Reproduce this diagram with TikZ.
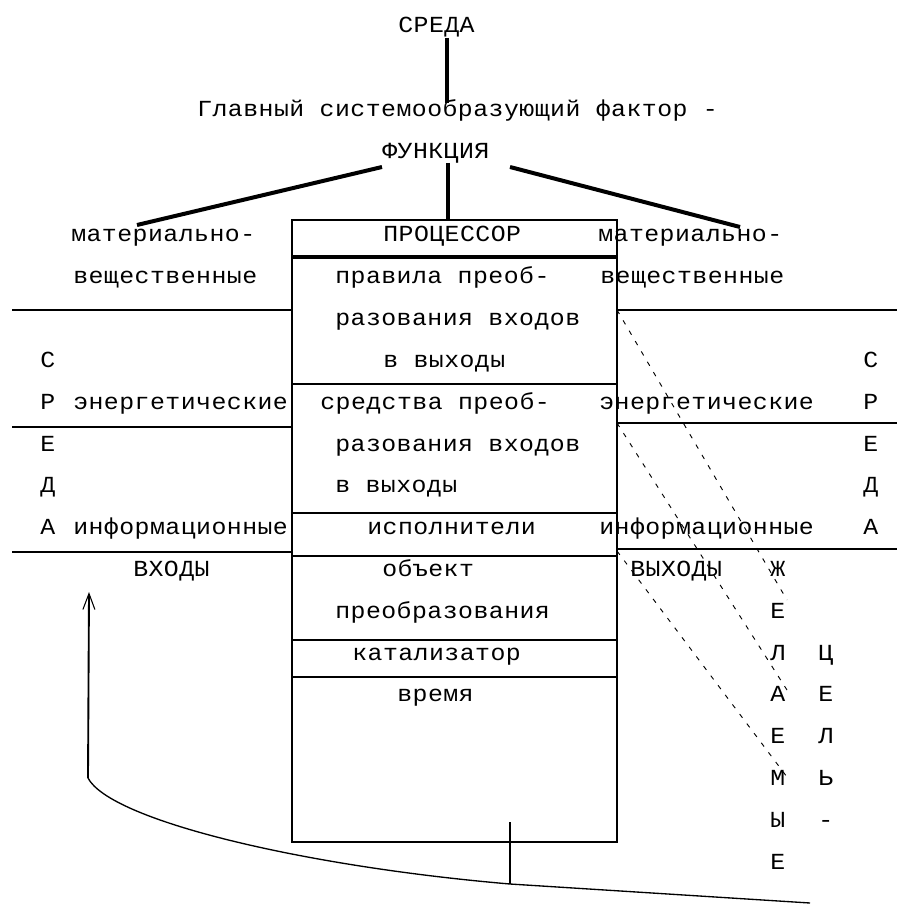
\documentclass[tikz,border=0pt]{standalone}
\usepackage{fontspec}
\setmainfont{Liberation Mono}[FakeStretch=1.08,LetterSpace=2]
\usetikzlibrary{arrows.meta}
\begin{document}
\begin{tikzpicture}[x=0.75pt,y=-0.75pt,
  txt/.style={anchor=base west,inner sep=0pt,font=\fontsize{17.25pt}{20pt}\selectfont},
  heavy/.style={line width=3pt},
  thin/.style={line width=1pt},
  dashln/.style={line width=0.7pt,dash pattern=on 3.5pt off 5.5pt}]
\useasboundingbox[fill=white] (0,0) rectangle (903,905);
% ---- top texts
\node[txt] (sreda) at (398,{33+41.8*0}) {СРЕДА};
\node[txt] (glav) at (197,{33+41.8*2}) {Главный системообразующий фактор -};
\node[txt] (func) at (382,{33+41.8*3}) {ФУНКЦИЯ};
% ---- box
\coordinate (bx1) at (292,220);
\coordinate (bx2) at (617,842);
\draw[thin] (bx1) rectangle (bx2);
\draw[heavy] (292,257) -- (617,257);
\foreach \yy in {384,513,556,640,677} \draw[thin] (292,\yy) -- (617,\yy);
% ---- thick connectors
\coordinate (s1) at (447,38);  \coordinate (s2) at (447,103);
\coordinate (f1) at (448,163); \coordinate (f2) at (448,220);
\coordinate (l1) at (382,167); \coordinate (l2) at (137,225);
\coordinate (r1) at (510,167); \coordinate (r2) at (740,227);
\draw[heavy] (s1) -- (s2);
\draw[heavy] (f1) -- (f2);
\draw[heavy] (l1) -- (l2);
\draw[heavy] (r1) -- (r2);
% ---- outer horizontal lines
\coordinate (hl1) at (12,310);  \coordinate (hb1) at (292,310);
\coordinate (hl2) at (12,427);  \coordinate (hb2) at (292,427);
\coordinate (hl3) at (12,552);  \coordinate (hb3) at (292,552);
\coordinate (hr1) at (897,310); \coordinate (ha1) at (617,310);
\coordinate (hr2) at (897,423); \coordinate (ha2) at (617,423);
\coordinate (hr3) at (897,549); \coordinate (ha3) at (617,549);
\draw[thin] (hl1) -- (hb1); \draw[thin] (hl2) -- (hb2); \draw[thin] (hl3) -- (hb3);
\draw[thin] (ha1) -- (hr1); \draw[thin] (ha2) -- (hr2); \draw[thin] (ha3) -- (hr3);
% ---- box texts
\node[txt] (proc) at (383,{33+41.8*5}) {ПРОЦЕССОР};
\node[txt] (p1) at (335,{33+41.8*6}) {правила преоб-};
\node[txt] (p2) at (335,{33+41.8*7}) {разования входов};
\node[txt] (p3) at (383,{33+41.8*8}) {в выходы};
\node[txt] (p4) at (320,{33+41.8*9}) {средства преоб-};
\node[txt] (p5) at (335,{33+41.8*10}) {разования входов};
\node[txt] (p6) at (335,{33+41.8*11}) {в выходы};
\node[txt] (p7) at (367,{33+41.8*12}) {исполнители};
\node[txt] (p8) at (382,{33+41.8*13}) {объект};
\node[txt] (p9) at (335,{33+41.8*14}) {преобразования};
\node[txt] (p10) at (352,{33+41.8*15}) {катализатор};
\node[txt] (p11) at (397,{33+41.8*16}) {время};
% ---- left column
\node[txt] (lm1) at (71,{33+41.8*5}) {материально-};
\node[txt] (lm2) at (73,{33+41.8*6}) {вещественные};
\node[txt] (lc) at (40,{33+41.8*8}) {С};
\node[txt] (lr) at (40,{33+41.8*9}) {Р};
\node[txt] (le) at (73,{33+41.8*9}) {энергетические};
\node[txt] (le2) at (40,{33+41.8*10}) {Е};
\node[txt] (ld) at (40,{33+41.8*11}) {Д};
\node[txt] (la) at (40,{33+41.8*12}) {А};
\node[txt] (li) at (73,{33+41.8*12}) {информационные};
\node[txt] (vh) at (133,{33+41.8*13}) {ВХОДЫ};
% ---- right column
\node[txt] (rm1) at (598,{33+41.8*5}) {материально-};
\node[txt] (rm2) at (600,{33+41.8*6}) {вещественные};
\node[txt] (rc) at (863,{33+41.8*8}) {С};
\node[txt] (re) at (599,{33+41.8*9}) {энергетические};
\node[txt] (rr) at (863,{33+41.8*9}) {Р};
\node[txt] (re2) at (863,{33+41.8*10}) {Е};
\node[txt] (rd) at (863,{33+41.8*11}) {Д};
\node[txt] (ri) at (599,{33+41.8*12}) {информационные};
\node[txt] (ra) at (863,{33+41.8*12}) {А};
\node[txt] (vyh) at (630,{33+41.8*13}) {ВЫХОДЫ};
% ---- vertical words
\foreach \ch [count=\i from 13] in {Ж,Е,Л,А,Е,М,Ы,Е}
  \node[txt] (zh\i) at (770,{33+41.8*\i}) {\ch};
\foreach \ch [count=\i from 15] in {Ц,Е,Л,Ь,-}
  \node[txt] (ts\i) at (818,{33+41.8*\i}) {\ch};
% ---- dashed lines
\coordinate (da) at (787,600);
\coordinate (db) at (787,690);
\coordinate (dc) at (787,777);
\draw[dashln] (ha1) -- (da);
\draw[dashln] (ha2) -- (db);
\draw[dashln] (617,551) -- (dc);
% ---- feedback
\coordinate (t1) at (510,822);
\coordinate (t2) at (510,884);
\coordinate (ce) at (810,903);
\coordinate (cl) at (88,778);
\coordinate (tip) at (89,592);
\draw[thin] (t1) -- (t2);
\draw[thin] (ce) -- (t2) .. controls (300,866) and (110,820) .. (cl);
\draw[line width=1.4pt,-{Straight Barb[length=12pt,width=9pt,line width=0.8pt]}] (cl) -- (tip);
\end{tikzpicture}
\end{document}
